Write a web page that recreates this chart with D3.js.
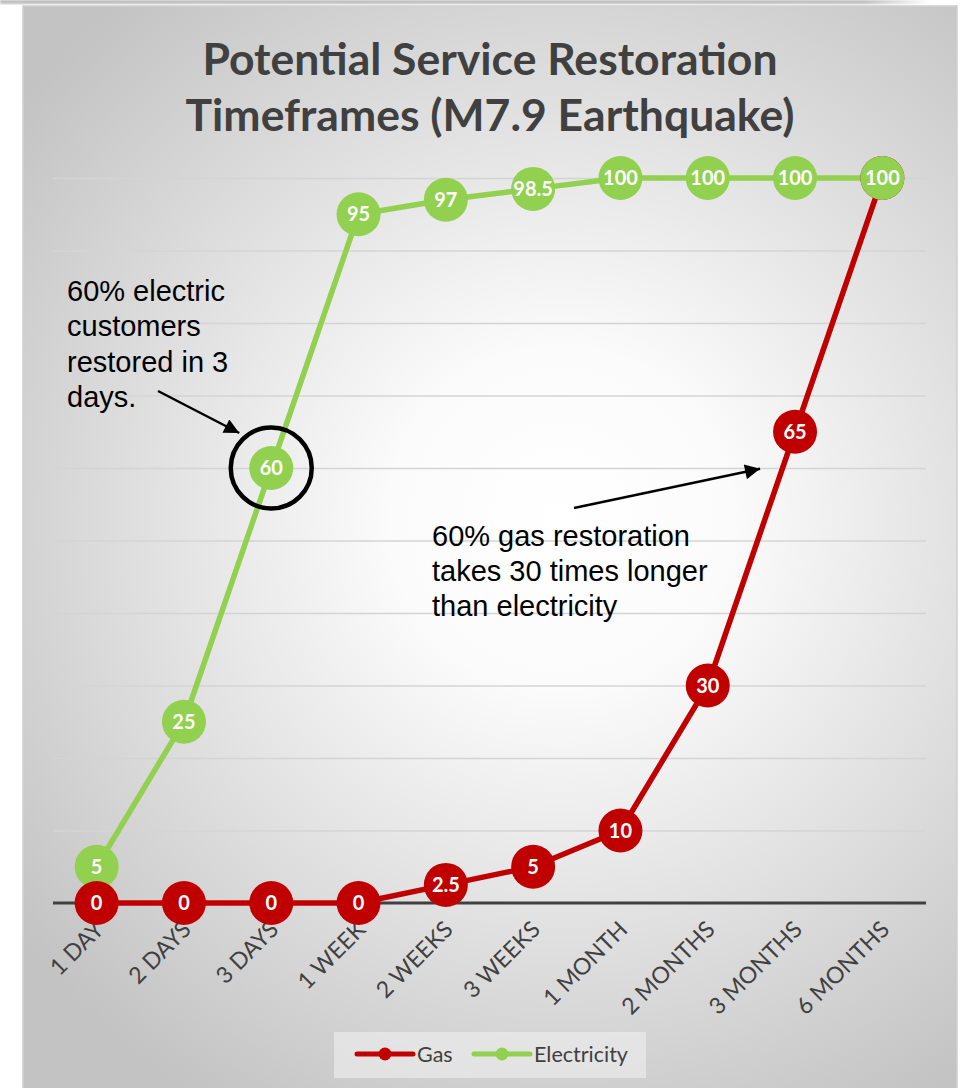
<!DOCTYPE html>
<html>
<head>
<meta charset="utf-8">
<script src="https://cdn.jsdelivr.net/npm/d3@7"></script>
<style>
  html, body { margin: 0; padding: 0; background: #ffffff; }
  svg { display: block; }
</style>
</head>
<body>
<svg id="chart" width="964" height="1088"></svg>
<script>
// ---- data ----
const categories = ["1 DAY", "2 DAYS", "3 DAYS", "1 WEEK", "2 WEEKS", "3 WEEKS", "1 MONTH", "2 MONTHS", "3 MONTHS", "6 MONTHS"];
const gasValues = [0, 0, 0, 0, 2.5, 5, 10, 30, 65, 100];
const electricityValues = [5, 25, 60, 95, 97, 98.5, 100, 100, 100, 100];
const yTicks = [0, 10, 20, 30, 40, 50, 60, 70, 80, 90, 100];
const titleLines = ["Potential Service Restoration", "Timeframes (M7.9 Earthquake)"];
const electricNote = ["60% electric", "customers", "restored in 3", "days."];
const gasNote = ["60% gas restoration", "takes 30 times longer", "than electricity"];

const series = [
  { name: "Gas", values: gasValues, color: "#C00000" },
  { name: "Electricity", values: electricityValues, color: "#92D050" }
];

// ---- layout ----
const W = 964, H = 1088;
const panel = { x: 23, y: 6, w: 934, h: 1100 };
const plot = { left: 53, right: 926, top: 178, bottom: 903 };
const markerR = 22;

const svg = d3.select("#chart");
const defs = svg.append("defs");

// radial background of the chart panel
const bg = defs.append("radialGradient")
  .attr("id", "panelBg")
  .attr("gradientUnits", "userSpaceOnUse")
  .attr("cx", 560).attr("cy", 520).attr("r", 680);
bg.append("stop").attr("offset", 0).attr("stop-color", "#ffffff");
bg.append("stop").attr("offset", 0.25).attr("stop-color", "#fbfbfb");
bg.append("stop").attr("offset", 1).attr("stop-color", "#c3c3c3");

// grey strip along the top edge of the page
const strip = defs.append("linearGradient").attr("id", "stripFade")
  .attr("x1", 0).attr("x2", 1).attr("y1", 0).attr("y2", 0);
strip.append("stop").attr("offset", 0).attr("stop-color", "#bdbdbd");
strip.append("stop").attr("offset", 0.93).attr("stop-color", "#bdbdbd");
strip.append("stop").attr("offset", 1).attr("stop-color", "#bdbdbd").attr("stop-opacity", 0);
defs.append("filter").attr("id", "soft")
  .append("feGaussianBlur").attr("stdDeviation", 0.8);

svg.append("rect").attr("x", 0).attr("y", 0).attr("width", 930).attr("height", 4)
  .attr("fill", "url(#stripFade)").attr("filter", "url(#soft)");

svg.append("rect")
  .attr("x", panel.x).attr("y", panel.y).attr("width", panel.w).attr("height", panel.h)
  .attr("fill", "url(#panelBg)")
  .attr("stroke", "#cfcfcf").attr("stroke-width", 1.5);

// ---- scales ----
const x = d3.scalePoint().domain(categories).range([plot.left, plot.right]).padding(0.5);
const y = d3.scaleLinear().domain([0, 100]).range([plot.bottom, plot.top]);

// ---- title ----
svg.append("g").selectAll("text").data(titleLines).join("text")
  .attr("x", 490)
  .attr("y", (d, i) => 75 + i * 56)
  .attr("text-anchor", "middle")
  .attr("font-family", "Lato, sans-serif")
  .attr("font-weight", 700)
  .attr("font-size", 44.5)
  .attr("fill", "#404040")
  .text(d => d);

// ---- gridlines ----
svg.append("g")
  .attr("transform", `translate(${plot.left},0)`)
  .call(d3.axisLeft(y).tickValues(yTicks.filter(v => v > 0)).tickSize(-(plot.right - plot.left)).tickFormat(""))
  .call(g => g.select(".domain").remove())
  .call(g => g.selectAll(".tick line").attr("stroke", "#d4d4d4").attr("stroke-width", 1.5));

// ---- x axis ----
const xAxis = svg.append("g")
  .attr("transform", `translate(0,${y(0)})`)
  .call(d3.axisBottom(x).tickSize(0).tickSizeOuter(0));
xAxis.select(".domain")
  .attr("d", `M${plot.left},0H${plot.right}`)
  .attr("stroke", "#404040").attr("stroke-width", 3);
xAxis.selectAll(".tick text")
  .attr("font-family", "Lato, sans-serif")
  .attr("font-size", 23)
  .attr("fill", "#404040")
  .attr("text-anchor", "end")
  .attr("y", 0).attr("dy", 0)
  .attr("transform", "translate(8,28) rotate(-45)");

// ---- lines ----
const line = d3.line().x((d, i) => x(categories[i])).y(d => y(d));
svg.append("g").selectAll("path").data(series).join("path")
  .attr("d", s => line(s.values))
  .attr("fill", "none")
  .attr("stroke", s => s.color)
  .attr("stroke-width", 5.5)
  .attr("stroke-linejoin", "round");

// ---- markers with value labels (lower points sit on top) ----
const points = [];
series.forEach((s, si) => s.values.forEach((v, i) => points.push({ si, cat: categories[i], v, color: s.color })));
points.sort((a, b) => (b.v - a.v) || (a.si - b.si));

const pt = svg.append("g").selectAll("g").data(points).join("g")
  .attr("transform", d => `translate(${x(d.cat)},${y(d.v)})`);
pt.append("circle").attr("r", markerR).attr("fill", d => d.color);
pt.append("text")
  .attr("text-anchor", "middle")
  .attr("dy", "0.36em")
  .attr("font-family", "Lato, sans-serif")
  .attr("font-weight", 700)
  .attr("font-size", 20)
  .attr("fill", "#ffffff")
  .text(d => d.v);

// ---- annotations ----
defs.append("marker").attr("id", "arrowHead")
  .attr("viewBox", "0 0 10 10").attr("refX", 10).attr("refY", 5)
  .attr("markerWidth", 7).attr("markerHeight", 6).attr("markerUnits", "strokeWidth")
  .attr("orient", "auto")
  .append("path").attr("d", "M0,0L10,5L0,10Z").attr("fill", "#000");

const noteFont = "Liberation Sans, Arial, sans-serif";

// electric highlight
const e60x = x("3 DAYS"), e60y = y(60);
svg.append("circle").attr("cx", e60x).attr("cy", e60y).attr("r", 40.5)
  .attr("fill", "none").attr("stroke", "#000").attr("stroke-width", 4.5);
svg.append("line")
  .attr("x1", 158).attr("y1", 391)
  .attr("x2", e60x - 32).attr("y2", e60y - 35)
  .attr("stroke", "#000").attr("stroke-width", 2.5)
  .attr("marker-end", "url(#arrowHead)");
svg.append("g").selectAll("text").data(electricNote).join("text")
  .attr("x", 67).attr("y", (d, i) => 301 + i * 35.3)
  .attr("font-family", noteFont).attr("font-size", 29).attr("fill", "#000")
  .text(d => d);

// gas note
const g65x = x("3 MONTHS"), g65y = y(65);
svg.append("line")
  .attr("x1", 574).attr("y1", 508)
  .attr("x2", g65x - 35).attr("y2", g65y + 37)
  .attr("stroke", "#000").attr("stroke-width", 2.5)
  .attr("marker-end", "url(#arrowHead)");
svg.append("g").selectAll("text").data(gasNote).join("text")
  .attr("x", 432).attr("y", (d, i) => 546 + i * 35)
  .attr("font-family", noteFont).attr("font-size", 29).attr("fill", "#000")
  .text(d => d);

// ---- legend ----
const legend = svg.append("g");
legend.append("rect").attr("x", 334).attr("y", 1032).attr("width", 312).attr("height", 46)
  .attr("fill", "#ebebeb").attr("fill-opacity", 0.7);
const legendX = [357, 474];
const li = legend.selectAll("g").data(series).join("g")
  .attr("transform", (d, i) => `translate(${legendX[i]},1054)`);
li.append("line").attr("x1", 0).attr("x2", 56).attr("y1", 0).attr("y2", 0)
  .attr("stroke", d => d.color).attr("stroke-width", 5).attr("stroke-linecap", "round");
li.append("circle").attr("cx", 28).attr("r", 6.5).attr("fill", d => d.color);
li.append("text").attr("x", 60).attr("dy", "0.35em")
  .attr("font-family", "Lato, sans-serif").attr("font-size", 21.5).attr("fill", "#404040")
  .text(d => d.name);
</script>
</body>
</html>
